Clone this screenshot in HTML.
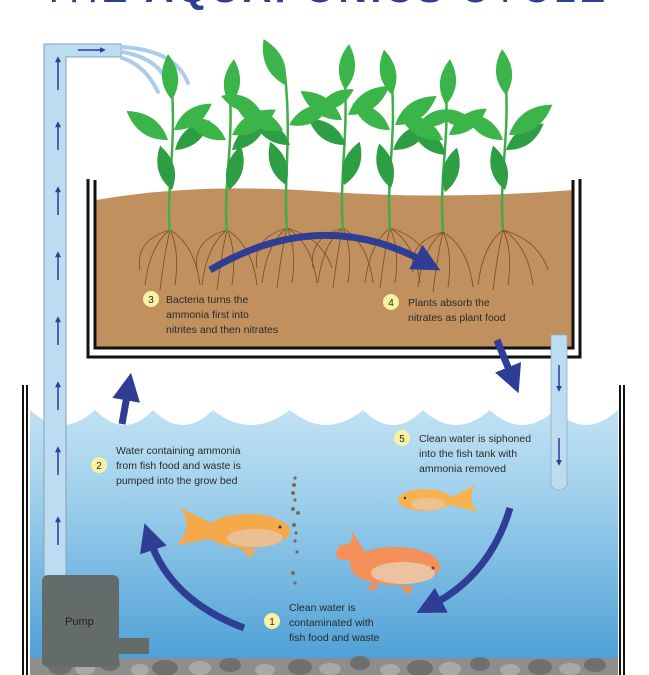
<!DOCTYPE html>
<html><head><meta charset="utf-8"><style>
html,body{margin:0;padding:0;background:#fff;}
svg{display:block;}
text{font-family:"Liberation Sans",sans-serif;}
</style></head><body>
<svg width="649" height="675" viewBox="0 0 649 675" xmlns="http://www.w3.org/2000/svg">
<defs>
<linearGradient id="wat" x1="0" y1="0" x2="0" y2="1">
<stop offset="0" stop-color="#c3e2f3"/><stop offset="0.35" stop-color="#9fd0ec"/><stop offset="1" stop-color="#4c9fd6"/>
</linearGradient>
<path id="leaf" d="M0,0 Q16,-22 0,-46 Q-16,-22 0,0Z"/>
<marker id="ah" markerWidth="4" markerHeight="4" refX="1.5" refY="2" orient="auto" markerUnits="strokeWidth">
<path d="M0,0 L4,2 L0,4 Z" fill="#2f3d94"/></marker>
</defs>

<text x="325" y="2" text-anchor="middle" font-size="40" fill="#2f3d94" letter-spacing="3"><tspan font-weight="300">THE </tspan><tspan font-weight="bold">AQUAPONICS</tspan><tspan> CYCLE</tspan></text>

<rect x="30" y="405" width="588" height="260" fill="url(#wat)"/>
<path d="M30,405 L30,410 Q62,440 95,410 Q125,440 153,410 Q183,440 213,410 Q250,440 290,410 Q326,440 363,410 Q393,440 423,410 Q456,440 490,410 Q522,440 555,410 Q586,440 618,410 L618,405 Z" fill="#fff"/>
<path d="M25,385 V675 M622,385 V675" stroke="#111" stroke-width="6" fill="none"/>
<path d="M25,385 V675 M622,385 V675" stroke="#fff" stroke-width="2" fill="none"/>

<rect x="30" y="658" width="588" height="17" fill="#8e8e8e"/>
<g fill="#6f6f6f">
<ellipse cx="60" cy="667" rx="12" ry="8"/><ellipse cx="110" cy="664" rx="10" ry="7"/><ellipse cx="165" cy="668" rx="13" ry="8"/>
<ellipse cx="230" cy="665" rx="11" ry="7"/><ellipse cx="300" cy="667" rx="12" ry="8"/><ellipse cx="360" cy="663" rx="10" ry="7"/>
<ellipse cx="420" cy="668" rx="13" ry="8"/><ellipse cx="480" cy="664" rx="10" ry="7"/><ellipse cx="540" cy="667" rx="12" ry="8"/><ellipse cx="595" cy="665" rx="11" ry="7"/>
</g>
<g fill="#a9a9a9">
<ellipse cx="85" cy="669" rx="10" ry="6"/><ellipse cx="140" cy="670" rx="9" ry="6"/><ellipse cx="200" cy="668" rx="11" ry="7"/>
<ellipse cx="265" cy="670" rx="10" ry="6"/><ellipse cx="330" cy="669" rx="11" ry="6"/><ellipse cx="390" cy="670" rx="10" ry="6"/>
<ellipse cx="450" cy="669" rx="11" ry="7"/><ellipse cx="510" cy="670" rx="10" ry="6"/><ellipse cx="570" cy="669" rx="11" ry="6"/>
</g>

<path d="M44,580 V44 H121 V57 H66 V580 Z" fill="#bcdcf2" stroke="#8aa0b0" stroke-width="1"/>
<g stroke="#2f3d94" stroke-width="1.5" fill="none" marker-end="url(#ah)">
<path d="M58,90 V60"/><path d="M58,150 V125"/><path d="M58,215 V190"/><path d="M58,280 V255"/><path d="M58,345 V320"/>
<path d="M58,410 V385"/><path d="M58,475 V450"/><path d="M58,545 V520"/><path d="M78,50 H102"/>
</g>
<g stroke="#a9cdea" stroke-width="4" fill="none" stroke-linecap="round">
<path d="M122,47 Q175,50 188,83"/><path d="M122,52 Q160,58 170,88"/><path d="M122,58 Q145,65 158,92"/>
</g>

<rect x="42" y="575" width="77" height="92" rx="6" fill="#636b6b"/>
<rect x="112" y="638" width="37" height="16" fill="#636b6b"/>
<text x="65" y="625" font-size="11" fill="#222">Pump</text>

<path d="M96,200 Q200,182 330,192 Q450,200 573,190 V347 H96 Z" fill="#c0915f"/>
<path d="M88,179 V357 H580 V179" stroke="#111" stroke-width="3" fill="none"/>
<path d="M95,180 V348 H573 V180" stroke="#111" stroke-width="3" fill="none"/>
<path d="M91,180 V352 H577 V180" stroke="#fff" stroke-width="2" fill="none"/>

<g stroke="#7a4a25" stroke-width="0.9" fill="none" opacity="0.9">
<path d="M170,230 q-20,15 -25,55 M170,230 q-5,20 -10,60 M170,230 q10,20 5,55 M170,230 q25,15 30,55 M170,230 q-35,10 -30,40"/>
<path d="M227,230 q-20,15 -25,55 M227,230 q-5,20 -10,60 M227,230 q10,20 5,55 M227,230 q25,15 30,55 M227,230 q-35,10 -30,40"/>
<path d="M287,228 q-20,15 -25,55 M287,228 q-5,20 -10,60 M287,228 q10,20 5,55 M287,228 q25,15 30,55 M287,228 q-35,10 -30,40 M287,228 q35,10 45,40"/>
<path d="M343,228 q-20,15 -25,55 M343,228 q-5,20 -10,60 M343,228 q10,20 5,55 M343,228 q25,15 30,55 M343,228 q-35,10 -30,40"/>
<path d="M390,228 q-20,15 -25,55 M390,228 q-5,20 -10,60 M390,228 q10,20 5,55 M390,228 q25,15 30,55 M390,228 q35,10 40,40"/>
<path d="M443,232 q-20,15 -25,55 M443,232 q-5,20 -10,60 M443,232 q10,20 5,55 M443,232 q25,15 30,55 M443,232 q-35,10 -30,40"/>
<path d="M503,230 q-20,15 -25,55 M503,230 q-5,20 -10,60 M503,230 q10,20 5,55 M503,230 q25,15 30,55 M503,230 q35,10 45,40"/>
</g>

<g fill="none" stroke="#3fae49" stroke-width="2.5">
<path d="M170,232 C166,190 176,150 172,90"/><path d="M227,232 C223,190 233,150 230,95"/><path d="M287,230 C283,180 292,140 285,75"/>
<path d="M343,230 C339,180 348,140 345,80"/><path d="M390,230 C386,180 396,140 392,85"/><path d="M443,232 C439,180 449,140 446,95"/><path d="M503,230 C499,180 509,140 506,85"/>
</g>
<g fill="#2e9e45">
<use href="#leaf" transform="translate(172,190) rotate(-15)"/>
<use href="#leaf" transform="translate(229,190) rotate(15)"/>
<use href="#leaf" transform="translate(286,185) rotate(-20)"/>
<use href="#leaf" transform="translate(344,185) rotate(20)"/>
<use href="#leaf" transform="translate(391,188) rotate(-15)"/>
<use href="#leaf" transform="translate(445,192) rotate(15)"/>
<use href="#leaf" transform="translate(505,190) rotate(-15)"/>
<use href="#leaf" transform="translate(175,150) rotate(50)"/>
<use href="#leaf" transform="translate(232,150) rotate(50)"/>
<use href="#leaf" transform="translate(290,145) rotate(-55)"/>
<use href="#leaf" transform="translate(346,145) rotate(-55)"/>
<use href="#leaf" transform="translate(393,150) rotate(55)"/>
<use href="#leaf" transform="translate(446,155) rotate(-50)"/>
<use href="#leaf" transform="translate(506,150) rotate(55)"/>
</g>
<g fill="#3bb54a">
<use href="#leaf" transform="translate(172,100) rotate(-5)"/>
<use href="#leaf" transform="translate(168,140) rotate(-55) scale(1.1)"/>
<use href="#leaf" transform="translate(174,130) rotate(55)"/>
<use href="#leaf" transform="translate(230,105) rotate(5)"/>
<use href="#leaf" transform="translate(226,140) rotate(-60)"/>
<use href="#leaf" transform="translate(232,135) rotate(60) scale(1.1)"/>
<use href="#leaf" transform="translate(285,85) rotate(-25) scale(1.1)"/>
<use href="#leaf" transform="translate(283,130) rotate(-65) scale(1.1)"/>
<use href="#leaf" transform="translate(289,125) rotate(65)"/>
<use href="#leaf" transform="translate(345,90) rotate(5)"/>
<use href="#leaf" transform="translate(342,120) rotate(-55) scale(1.1)"/>
<use href="#leaf" transform="translate(348,115) rotate(55) scale(1.1)"/>
<use href="#leaf" transform="translate(392,95) rotate(-10)"/>
<use href="#leaf" transform="translate(390,130) rotate(-55)"/>
<use href="#leaf" transform="translate(395,125) rotate(55) scale(1.1)"/>
<use href="#leaf" transform="translate(446,105) rotate(5)"/>
<use href="#leaf" transform="translate(443,140) rotate(-60) scale(1.1)"/>
<use href="#leaf" transform="translate(449,135) rotate(55)"/>
<use href="#leaf" transform="translate(506,95) rotate(-5)"/>
<use href="#leaf" transform="translate(503,140) rotate(-55)"/>
<use href="#leaf" transform="translate(509,135) rotate(55) scale(1.15)"/>
<use href="#leaf" transform="translate(260,110) rotate(-70) scale(0.9)"/>
<use href="#leaf" transform="translate(318,110) rotate(60) scale(0.9)"/>
<use href="#leaf" transform="translate(418,125) rotate(70) scale(0.9)"/>
<use href="#leaf" transform="translate(475,125) rotate(-70) scale(0.9)"/>
</g>

<g stroke="#2f3d94" stroke-width="7" fill="none" marker-end="url(#ah)">
<path d="M210,270 Q320,205 425,262"/>
<path d="M122,424 L128,390"/>
<path d="M497,340 L512,377"/>
<path d="M244,628 Q170,600 150,540"/>
<path d="M510,508 Q490,575 432,605"/>
</g>

<path d="M551,335 H567 V486 Q559,494 551,486 Z" fill="#bcdcf2" stroke="#9ab" stroke-width="0.8"/>
<g stroke="#2f3d94" stroke-width="1.5" fill="none" marker-end="url(#ah)">
<path d="M559,365 V388"/><path d="M559,438 V462"/>
</g>

<g fill="#7a6a5a">
<circle cx="295" cy="478" r="1.6"/><circle cx="294" cy="485" r="2"/><circle cx="293" cy="493" r="2"/><circle cx="295" cy="500" r="1.6"/>
<circle cx="293" cy="509" r="2"/><circle cx="298" cy="513" r="2"/><circle cx="294" cy="525" r="2"/><circle cx="296" cy="533" r="1.6"/>
<circle cx="295" cy="541" r="1.6"/><circle cx="297" cy="552" r="1.6"/><circle cx="293" cy="573" r="2"/><circle cx="295" cy="583" r="1.6"/>
</g>

<g>
<path d="M215,525 L180,507 Q195,528 176,545 L215,538 Z" fill="#f6a94a"/>
<ellipse cx="248" cy="531" rx="42" ry="17" fill="#f6a94a"/>
<ellipse cx="255" cy="538" rx="28" ry="9" fill="#e9bf93"/>
<path d="M240,548 l10,10 l6,-8 Z" fill="#f6a94a"/>
<circle cx="280" cy="527" r="1.5" fill="#333"/>
</g>
<g>
<path d="M365,552 L350,528 Q358,545 340,545 Q330,560 345,560 L372,565 Z" fill="#f4905a"/>
<ellipse cx="395" cy="566" rx="45" ry="19" fill="#f4905a"/>
<ellipse cx="403" cy="573" rx="32" ry="11" fill="#ebc39e"/>
<path d="M375,580 l-8,10 l10,0 Z M400,585 l8,10 l6,-8 Z" fill="#f4905a"/>
<circle cx="433" cy="568" r="1.5" fill="#833"/>
</g>
<g>
<path d="M450,498 L475,485 Q466,500 478,512 L450,505 Z" fill="#f7b24f"/>
<ellipse cx="425" cy="500" rx="27" ry="11" fill="#f7b24f"/>
<ellipse cx="428" cy="504" rx="17" ry="6" fill="#ecc292"/>
<circle cx="405" cy="498" r="1.2" fill="#333"/>
</g>

<g font-size="10.5" fill="#2a2a2a">
<circle cx="151" cy="299" r="8" fill="#f8f3a3"/><text x="151" y="303" font-size="10" text-anchor="middle">3</text>
<text x="166" y="303">Bacteria turns the</text><text x="166" y="318">ammonia first into</text><text x="166" y="333">nitrites and then nitrates</text>
<circle cx="391" cy="302" r="8" fill="#f8f3a3"/><text x="391" y="306" font-size="10" text-anchor="middle">4</text>
<text x="408" y="306">Plants absorb the</text><text x="408" y="321">nitrates as plant food</text>
<circle cx="99" cy="465" r="8" fill="#f8f3a3"/><text x="99" y="469" font-size="10" text-anchor="middle">2</text>
<text x="116" y="454">Water containing ammonia</text><text x="116" y="469">from fish food and waste is</text><text x="116" y="484">pumped into the grow bed</text>
<circle cx="402" cy="438" r="8" fill="#f8f3a3"/><text x="402" y="442" font-size="10" text-anchor="middle">5</text>
<text x="419" y="442">Clean water is siphoned</text><text x="419" y="457">into the fish tank with</text><text x="419" y="472">ammonia removed</text>
<circle cx="272" cy="621" r="8" fill="#f8f3a3"/><text x="272" y="625" font-size="10" text-anchor="middle">1</text>
<text x="289" y="611">Clean water is</text><text x="289" y="626">contaminated with</text><text x="289" y="641">fish food and waste</text>
</g>
</svg>
</body></html>
